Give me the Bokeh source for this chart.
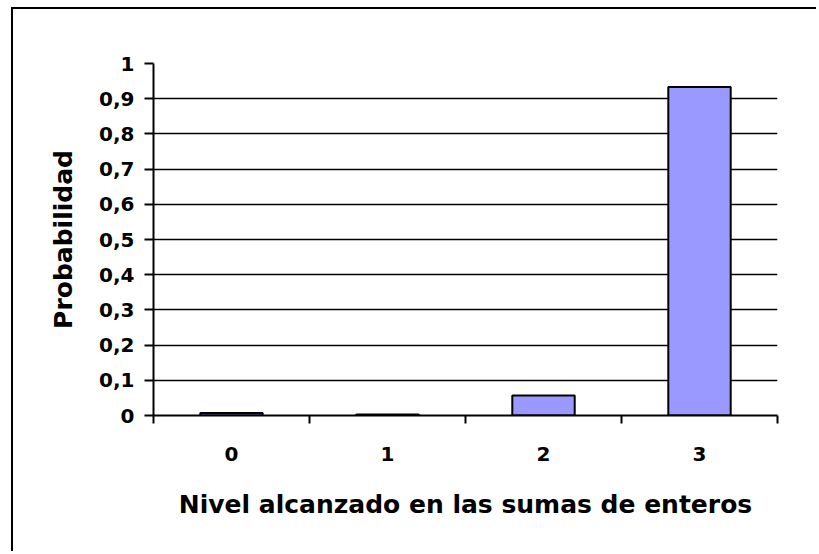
from bokeh.plotting import figure
from bokeh.models import Range1d, FixedTicker
from bokeh.embed import file_html
from bokeh.resources import INLINE

# ---- data ----
categories = ["0", "1", "2", "3"]
probabilities = [0.007, 0.003, 0.057, 0.933]
y_ticks = [0, 0.1, 0.2, 0.3, 0.4, 0.5, 0.6, 0.7, 0.8, 0.9, 1.0]
y_tick_labels = ["0", "0,1", "0,2", "0,3", "0,4", "0,5", "0,6", "0,7", "0,8", "0,9", "1"]
x_title = "Nivel alcanzado en las sumas de enteros"
y_title = "Probabilidad"

FONT = "DejaVu Sans"
x_centers = [i + 0.5 for i in range(len(categories))]
x_bounds = [i for i in range(len(categories) + 1)]

p = figure(width=805, height=544, output_backend="svg", toolbar_location=None,
           x_range=Range1d(0, len(categories)), y_range=Range1d(0, 1),
           min_border_left=140, min_border_right=41, min_border_top=54, min_border_bottom=138)
p.outline_line_color = None
p.background_fill_color = "white"
p.border_fill_color = "white"
p.styles = {"border-top": "2px solid black", "border-left": "2px solid black",
            "margin-left": "11px", "margin-top": "7px"}

p.vbar(x=x_centers, top=probabilities, bottom=0, width=0.4,
       fill_color="#9999FF", line_color="black", line_width=2)

# x axis
xa = p.xaxis[0]
xa.ticker = FixedTicker(ticks=x_centers, minor_ticks=x_bounds)
xa.major_label_overrides = {c: lab for c, lab in zip(x_centers, categories)}
xa.major_tick_out = 0
xa.major_tick_in = 0
xa.minor_tick_out = 8
xa.minor_tick_in = 0
xa.minor_tick_line_color = "black"
xa.minor_tick_line_width = 2
xa.axis_line_color = "black"
xa.axis_line_width = 2
xa.major_label_text_font = FONT
xa.major_label_text_font_style = "bold"
xa.major_label_text_font_size = "20px"
xa.major_label_text_color = "black"
xa.major_label_standoff = 23
xa.axis_label = x_title
xa.axis_label_text_font = FONT
xa.axis_label_text_font_style = "bold"
xa.axis_label_text_font_size = "25px"
xa.axis_label_text_color = "black"
xa.axis_label_standoff = 26

# y axis
ya = p.yaxis[0]
ya.ticker = FixedTicker(ticks=y_ticks, minor_ticks=[])
ya.major_label_overrides = {t: lab for t, lab in zip(y_ticks, y_tick_labels)}
ya.major_tick_out = 9
ya.major_tick_in = 0
ya.major_tick_line_width = 2
ya.major_tick_line_color = "black"
ya.axis_line_color = "black"
ya.axis_line_width = 2
ya.major_label_text_font = FONT
ya.major_label_text_font_style = "bold"
ya.major_label_text_font_size = "20px"
ya.major_label_text_color = "black"
ya.major_label_standoff = 10
ya.axis_label = y_title
ya.axis_label_text_font = FONT
ya.axis_label_text_font_style = "bold"
ya.axis_label_text_font_size = "25px"
ya.axis_label_text_color = "black"
ya.axis_label_standoff = 18

p.xgrid.visible = False
p.ygrid.ticker = FixedTicker(ticks=y_ticks)
p.ygrid.grid_line_color = "black"
p.ygrid.grid_line_width = 1.5

open("out.html", "w").write(file_html(p, INLINE))
